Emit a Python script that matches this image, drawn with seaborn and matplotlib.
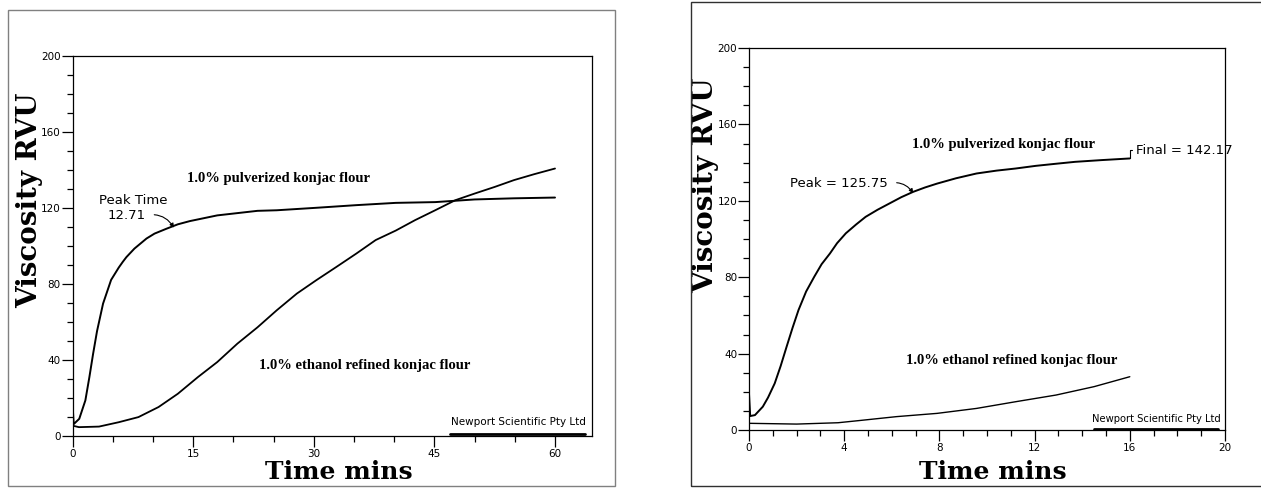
import matplotlib
matplotlib.use("Agg")
import matplotlib.pyplot as plt
import seaborn as sns
import pandas as pd
from matplotlib.patches import Rectangle
from matplotlib.ticker import MultipleLocator

# ---------------- data ----------------
# Left panel: 0-60 min
left_pulv_t = [0, 0, 0.15, 0.84, 1.6, 2.1, 2.56, 3.05, 3.8, 4.8, 5.75, 6.25, 6.7, 7.7, 9.2,
               10.2, 11.7, 13.1, 14.6, 18, 23, 25.4, 30.3, 35.3, 40.2, 45.1, 50, 54.9, 60]
left_pulv_v = [6, 17, 6, 8.8, 18.5, 30.8, 43, 55, 69.5, 82, 88.5, 91.5, 94, 98.5, 103.8,
               106.4, 109, 111.3, 113, 116, 118.4, 118.7, 120, 121.4, 122.6, 123, 124.4, 125, 125.4]
left_eth_t = [0, 0.8, 3.3, 5.75, 8.2, 10.7, 13.1, 15.6, 18, 20.5, 23, 25.4, 27.9, 30.3,
              32.8, 35.3, 37.7, 40.2, 42.6, 45.1, 47.6, 50, 52.5, 54.9, 57.4, 60]
left_eth_v = [5.2, 4.4, 4.7, 7, 9.7, 15, 22, 30.8, 38.7, 48.4, 57, 66, 74.8, 81.8,
              88.8, 95.9, 103, 108, 113.5, 118.7, 124, 127.5, 131, 134.6, 137.7, 140.7]

# Right panel: 0-16 min
right_pulv_t = [0, 0, 0.05, 0.25, 0.58, 0.8, 1.08, 1.33, 1.58, 1.83, 2.08, 2.4, 2.74, 3.05,
                3.4, 3.7, 4.07, 4.5, 4.9, 5.4, 5.9, 6.4, 6.9, 7.4, 7.9, 8.7, 9.56, 10.4,
                11.2, 12.05, 12.9, 13.7, 14.8, 16]
right_pulv_v = [12, 19, 7.3, 7.8, 12.2, 17.0, 24.4, 33.5, 43.6, 53.5, 62.8, 72.5, 80.2, 86.8,
                92.4, 97.8, 103, 107.6, 111.6, 115.3, 118.6, 121.9, 124.7, 127.0, 129, 131.8, 134.3, 135.8,
                136.9, 138.3, 139.4, 140.4, 141.3, 142.17]
right_eth_t = [0, 2, 3.74, 4.6, 6.2, 7.9, 9.56, 11.2, 12.9, 14.5, 16]
right_eth_v = [3.5, 3.1, 3.8, 4.9, 7, 8.7, 11.3, 14.8, 18.3, 22.7, 27.9]

y_ticks = [0, 40, 80, 120, 160, 200]
left_x_ticks = [0, 15, 30, 45, 60]
right_x_ticks = [0, 4, 8, 12, 16, 20]

label_pulv = "1.0% pulverized konjac flour"
label_eth = "1.0% ethanol refined konjac flour"
peak_left = 12.71
peak_right = 125.75
final_right = 142.17

# ---------------- style ----------------
sns.set_style("ticks")
plt.rcParams["font.family"] = ["DejaVu Sans"]
plt.rcParams["text.color"] = "black"
plt.rcParams["axes.labelcolor"] = "black"
plt.rcParams["xtick.color"] = "black"
plt.rcParams["ytick.color"] = "black"

fig = plt.figure(figsize=(12.61, 4.88), dpi=100)

# panel frames
fig.patches.append(Rectangle((8 / 1261, 2 / 488), 607 / 1261, 476 / 488,
                             transform=fig.transFigure, fill=False,
                             edgecolor="#808080", lw=1.0))
fig.patches.append(Rectangle((690.7 / 1261, 2 / 488), 0.5, 484 / 488,
                             transform=fig.transFigure, fill=False,
                             edgecolor="#303030", lw=1.0))

axL = fig.add_axes([72.5 / 1261, 1 - 435.5 / 488, 519.5 / 1261, 379.5 / 488])
axR = fig.add_axes([749 / 1261, 1 - 430 / 488, 476 / 1261, 382 / 488])


def style_axis(ax, xmax, xminor, xticks):
    ax.set_ylim(0, 200)
    ax.set_xlim(0, xmax)
    ax.set_yticks(y_ticks)
    ax.set_xticks(xticks)
    ax.yaxis.set_minor_locator(MultipleLocator(10))
    ax.xaxis.set_minor_locator(MultipleLocator(xminor))
    for s in ax.spines.values():
        s.set_visible(True)
        s.set_color("black")
        s.set_linewidth(0.9)
    ax.tick_params(axis="both", which="major", direction="out", length=8, width=0.9,
                   pad=0.5, labelsize=7.5, colors="black")
    ax.tick_params(axis="both", which="minor", direction="out", length=4, width=0.9,
                   colors="black")
    ax.tick_params(axis="x", which="major", pad=1.5)
    ax.set_facecolor("white")


def draw_line(ax, t, v, lw):
    df = pd.DataFrame({"t": t, "v": v})
    sns.lineplot(data=df, x="t", y="v", ax=ax, color="black", lw=lw,
                 estimator=None, sort=False)


lab_font = dict(family="Liberation Serif", weight="bold", size=10.5)
ann_size = 9.5

# ---------------- left panel ----------------
draw_line(axL, left_pulv_t, left_pulv_v, 1.4)
draw_line(axL, left_eth_t, left_eth_v, 1.3)
style_axis(axL, 64.6, 5, left_x_ticks)

axL.text(25.6, 135.6, label_pulv, ha="center", va="center", **lab_font)
axL.text(36.3, 37, label_eth, ha="center", va="center", **lab_font)
axL.text(7.5, 124, "Peak Time", ha="center", va="center", fontsize=ann_size)
axL.annotate(f"{peak_left:.2f}", xy=(peak_left - 0.1, 109.5), xytext=(6.7, 116),
             ha="center", va="center", fontsize=ann_size,
             arrowprops=dict(arrowstyle="-|>", lw=0.8, color="black", mutation_scale=6,
                             connectionstyle="arc3,rad=-0.35",
                             shrinkA=4, shrinkB=0, relpos=(1.0, 0.5)))
axL.text(55.4, 4.5, "Newport Scientific Pty Ltd", ha="center", va="bottom", fontsize=7.5)
axL.axhline(0.9, xmin=47 / 64.6, xmax=63.7 / 64.6, color="black", lw=2)

axL.set_xlabel("Time mins", family="DejaVu Serif", weight="bold", fontsize=18)
axL.set_ylabel("Viscosity RVU", family="DejaVu Serif", weight="bold", fontsize=20)
axL.xaxis.set_label_coords(0.513, -0.096)
axL.xaxis.label.set_va("center")
axL.yaxis.set_label_coords(-0.083, 0.62)
axL.yaxis.label.set_va("center")

# ---------------- right panel ----------------
draw_line(axR, right_pulv_t, right_pulv_v, 1.4)
draw_line(axR, right_eth_t, right_eth_v, 1.0)
style_axis(axR, 20, 1, right_x_ticks)

axR.text(10.7, 149.7, label_pulv, ha="center", va="center", **lab_font)
axR.text(11.05, 36.6, label_eth, ha="center", va="center", **lab_font)
axR.annotate(f"Peak = {peak_right:.2f}", xy=(6.9, 124), xytext=(3.78, 129),
             ha="center", va="center", fontsize=ann_size,
             arrowprops=dict(arrowstyle="-|>", lw=0.8, color="black", mutation_scale=6,
                             connectionstyle="arc3,rad=-0.35",
                             shrinkA=4, shrinkB=0, relpos=(1.0, 0.5)))
axR.annotate(f"Final = {final_right:.2f}", xy=(16, final_right), xytext=(16.25, 146.5),
             ha="left", va="center", fontsize=ann_size,
             arrowprops=dict(arrowstyle="-", lw=0.8, color="black",
                             connectionstyle="angle,angleA=0,angleB=90,rad=0",
                             shrinkA=0, shrinkB=0))
axR.text(17.1, 3.3, "Newport Scientific Pty Ltd", ha="center", va="bottom", fontsize=7.2)
axR.axhline(0.6, xmin=14.5 / 20, xmax=19.7 / 20, color="black", lw=2)

axR.set_xlabel("Time mins", family="DejaVu Serif", weight="bold", fontsize=18)
axR.set_ylabel("Viscosity RVU", family="DejaVu Serif", weight="bold", fontsize=20)
axR.xaxis.set_label_coords(0.513, -0.11)
axR.xaxis.label.set_va("center")
axR.yaxis.set_label_coords(-0.092, 0.641)
axR.yaxis.label.set_va("center")

fig.savefig("out.png", dpi=100, facecolor="white")
